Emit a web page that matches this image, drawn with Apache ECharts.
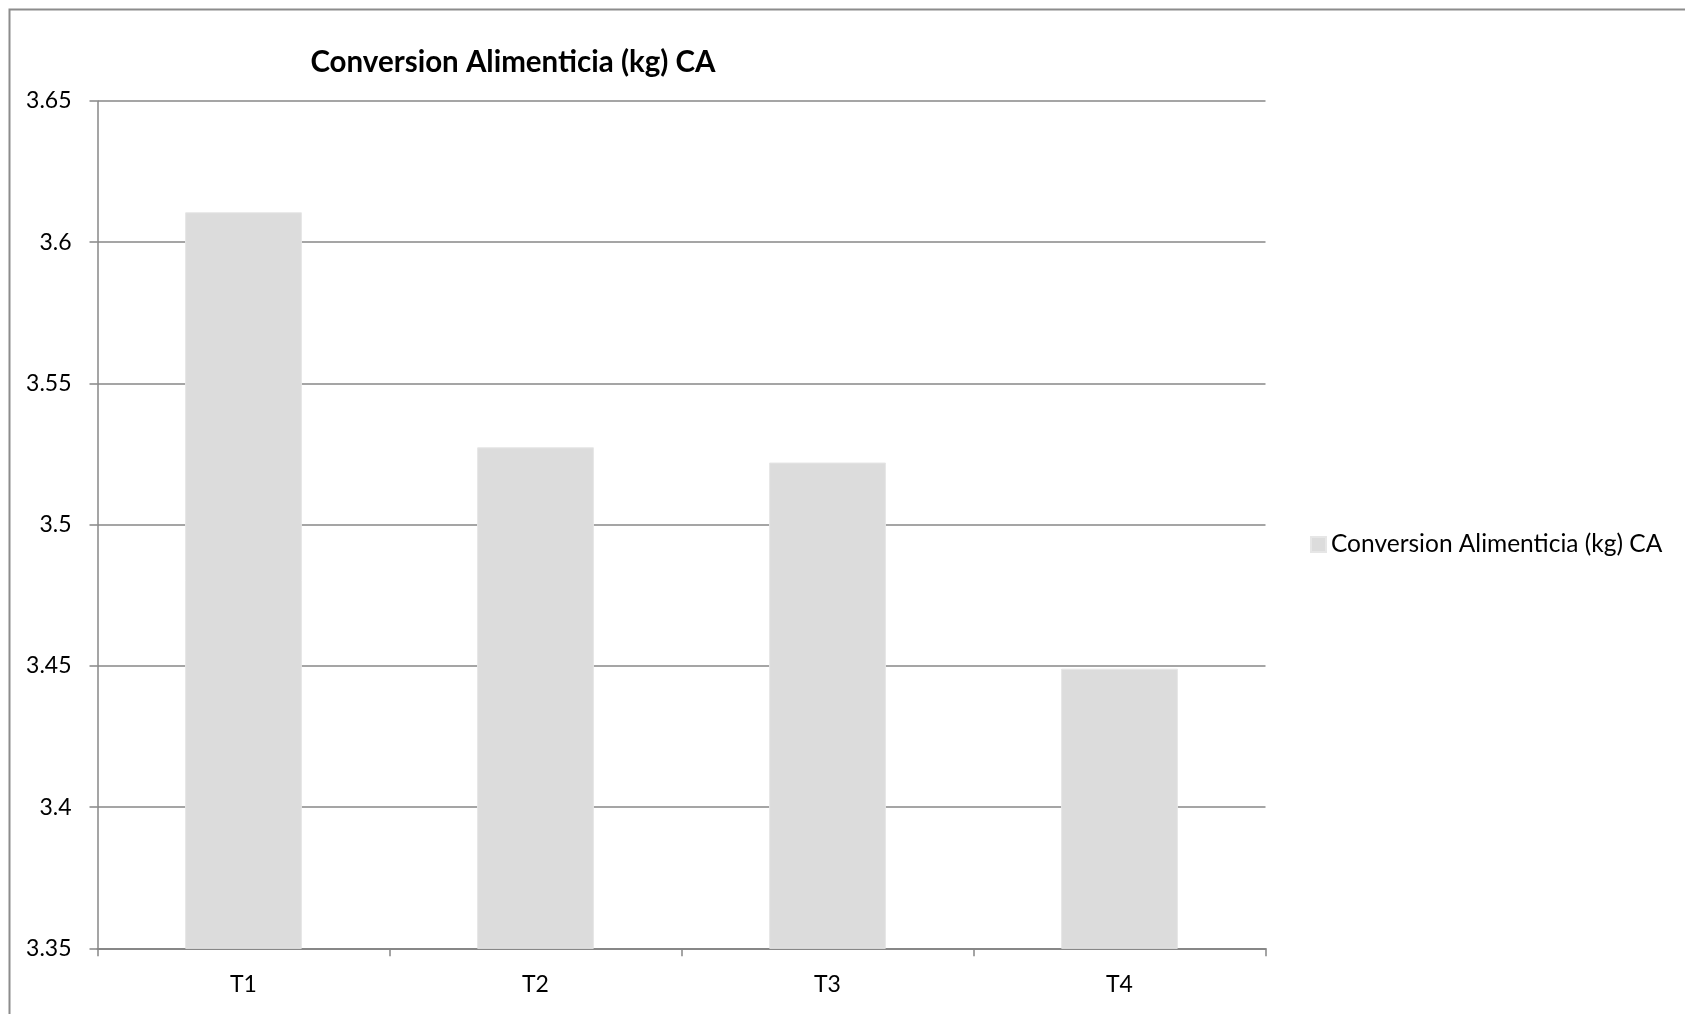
<!DOCTYPE html>
<html>
<head>
<meta charset="utf-8">
<title>Conversion Alimenticia (kg) CA</title>
<script src="https://cdn.jsdelivr.net/npm/echarts@6/dist/echarts.min.js"></script>
<style>
  html, body { margin: 0; padding: 0; background: #ffffff; }
  #chart { width: 1685px; height: 1014px; }
</style>
</head>
<body>
<div id="chart"></div>
<script>
// Treatments and their feed conversion values
const categories = ['T1', 'T2', 'T3', 'T4'];
const conversionValues = [3.6106, 3.5274, 3.5220, 3.4490];
const seriesName = 'Conversion Alimenticia (kg) CA';
const chartTitle = 'Conversion Alimenticia (kg) CA';
const yMin = 3.35;
const yMax = 3.65;
const yStep = 0.05;

const FONT = 'Lato, "Liberation Sans", sans-serif';
const AXIS_GREY = '#878787';

const chart = echarts.init(document.getElementById('chart'), null, { renderer: 'canvas' });

chart.setOption({
  animation: false,
  backgroundColor: '#ffffff',
  textStyle: { fontFamily: FONT },
  graphic: [
    {
      type: 'rect',
      silent: true,
      shape: { x: 9.5, y: 9.5, width: 2000, height: 2000 },
      style: { fill: 'none', stroke: '#8c8c8c', lineWidth: 2 }
    },
    {
      type: 'text',
      silent: true,
      x: 513,
      y: 62,
      style: {
        text: chartTitle,
        fill: '#000000',
        font: 'bold 29.5px ' + FONT,
        textAlign: 'center',
        textVerticalAlign: 'middle'
      }
    }
  ],
  legend: {
    left: 1310,
    top: 532,
    padding: 0,
    itemWidth: 15,
    itemHeight: 15,
    itemGap: 8,
    icon: 'rect',
    textStyle: { fontSize: 24.5, color: '#000000', fontFamily: FONT },
    data: [seriesName]
  },
  grid: {
    left: 97.5,
    right: 419.5,
    top: 101,
    bottom: 65.7,
    containLabel: false
  },
  xAxis: {
    type: 'category',
    data: categories,
    boundaryGap: true,
    axisLine: { show: true, lineStyle: { color: AXIS_GREY, width: 2 } },
    axisTick: { show: true, length: 8, inside: false, lineStyle: { color: AXIS_GREY, width: 1.5 } },
    axisLabel: { color: '#000000', fontSize: 23, margin: 25, fontFamily: FONT },
    splitLine: { show: false }
  },
  yAxis: {
    type: 'value',
    min: yMin,
    max: yMax,
    interval: yStep,
    axisLine: { show: true, lineStyle: { color: AXIS_GREY, width: 1.5 } },
    axisTick: { show: true, length: 8, inside: false, lineStyle: { color: AXIS_GREY, width: 1.5 } },
    axisLabel: { color: '#000000', fontSize: 23, margin: 26, fontFamily: FONT },
    splitLine: { show: true, lineStyle: { color: AXIS_GREY, width: 1.5 } }
  },
  series: [
    {
      name: seriesName,
      type: 'bar',
      data: conversionValues,
      barWidth: '40%',
      itemStyle: { color: '#dcdcdc', borderColor: '#e6e6e6', borderWidth: 1 },
      emphasis: { disabled: true }
    }
  ]
});
</script>
</body>
</html>
